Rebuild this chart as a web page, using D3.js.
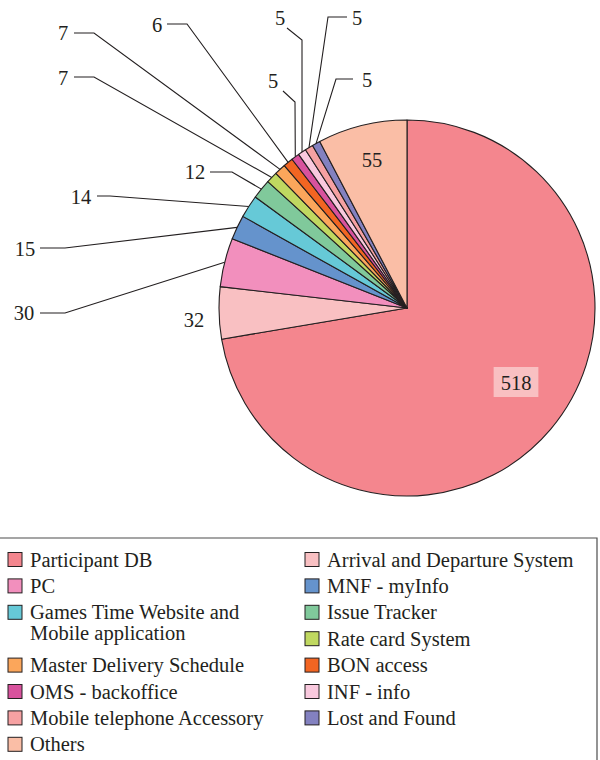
<!DOCTYPE html>
<html>
<head>
<meta charset="utf-8">
<script src="https://cdn.jsdelivr.net/npm/d3@7"></script>
<style>
  html, body { margin: 0; padding: 0; background: #fff; }
  svg { display: block; }
  text { font-family: "Liberation Serif", "Times New Roman", serif; fill: #231f20; }
</style>
</head>
<body>
<svg id="chart" width="600" height="760"></svg>
<script>
// ---- data ----
const categories = [
  "Participant DB", "Arrival and Departure System", "PC", "MNF - myInfo",
  "Games Time Website and Mobile application", "Issue Tracker", "Rate card System",
  "Master Delivery Schedule", "BON access", "OMS - backoffice", "INF - info",
  "Mobile telephone Accessory", "Lost and Found", "Others"
];
const values = [518, 32, 30, 15, 14, 12, 7, 7, 6, 5, 5, 5, 5, 55];
const colors = [
  "#f4868e", "#f9c0c2", "#f28fbd", "#6593cc", "#66c9d7", "#80c99b", "#c0d860",
  "#fba65b", "#f26522", "#d8529d", "#f9c9de", "#f6a1a2", "#8381c0", "#fabea6"
];

// ---- label layout (text centre x, baseline y, leader points before the slice edge) ----
const labelLayout = [
  { x: 516, y: 390, box: true },
  { x: 194, y: 327 },
  { x: 24,  y: 320, path: [[40, 313], [65, 313]] },
  { x: 25,  y: 256, path: [[40, 248], [65, 248]] },
  { x: 81,  y: 204, path: [[97, 196], [110, 196]] },
  { x: 195, y: 179, path: [[210, 172], [232, 172]] },
  { x: 63,  y: 85,  path: [[74, 77], [94, 77]] },
  { x: 63,  y: 40,  path: [[74, 33], [94, 33]] },
  { x: 157, y: 32,  path: [[167, 24], [187, 24]] },
  { x: 273, y: 88,  path: [[283, 91], [295, 102]] },
  { x: 280, y: 25,  path: [[287, 28], [302, 40]] },
  { x: 357, y: 25,  path: [[347, 17], [328, 17]] },
  { x: 367, y: 87,  path: [[353, 79], [336, 79]] },
  { x: 372, y: 167 }
];

const svg = d3.select("#chart");
const cx = 407, cy = 308, r = 188;
const fontSize = 20.5;

const pie = d3.pie().sort(null).value(d => d.value);
const data = categories.map((c, i) => ({ name: c, value: values[i], color: colors[i], idx: i }));
const arcs = pie(data);
const arc = d3.arc().innerRadius(0).outerRadius(r);

const g = svg.append("g").attr("transform", `translate(${cx},${cy})`);
g.selectAll("path.slice")
  .data(arcs)
  .join("path")
  .attr("class", "slice")
  .attr("d", arc)
  .attr("fill", d => d.data.color)
  .attr("stroke", "#231f20")
  .attr("stroke-width", 1.1)
  .attr("stroke-linejoin", "round");

// leader lines
const line = d3.line();
arcs.forEach((a, i) => {
  const L = labelLayout[i];
  if (!L.path) return;
  const mid = (a.startAngle + a.endAngle) / 2;
  const edge = [cx + r * Math.sin(mid), cy - r * Math.cos(mid)];
  svg.append("path")
    .attr("d", line(L.path.concat([edge])))
    .attr("fill", "none")
    .attr("stroke", "#231f20")
    .attr("stroke-width", 1.1);
});

// labels
arcs.forEach((a, i) => {
  const L = labelLayout[i];
  const t = svg.append("text")
    .attr("x", L.x).attr("y", L.y)
    .attr("text-anchor", "middle")
    .attr("font-size", fontSize)
    .text(a.data.value);
  if (L.box) {
    const bb = t.node().getBBox();
    svg.insert("rect", () => t.node())
      .attr("x", bb.x - 7).attr("y", L.y - 23)
      .attr("width", bb.width + 14).attr("height", 30)
      .attr("fill", "#f9c0c2");
  }
});

// ---- legend ----
const legendTop = 538, legendRight = 597;
svg.append("path")
  .attr("d", `M0,${legendTop}H${legendRight}V761`)
  .attr("fill", "none")
  .attr("stroke", "#4d4d4d")
  .attr("stroke-width", 1.2);

const colX = [8, 305];
const rowUnit = 26.4, row0 = 560, lineGap = 21, maxTextW = 255;
const colH = [0, 0];
const lg = svg.append("g");
data.forEach(d => {
  const c = colH[0] <= colH[1] ? 0 : 1;
  const yc = row0 + colH[c] * rowUnit;
  lg.append("rect")
    .attr("x", colX[c]).attr("y", yc - 7.5)
    .attr("width", 14).attr("height", 14)
    .attr("fill", d.color)
    .attr("stroke", "#231f20").attr("stroke-width", 1);
  const t = lg.append("text")
    .attr("x", colX[c] + 22).attr("y", yc + 6.5)
    .attr("font-size", fontSize);
  // wrap words
  const words = d.name.split(" ");
  let lines = [], cur = [];
  const probe = lg.append("text").attr("font-size", fontSize);
  words.forEach(w => {
    const trial = cur.concat([w]).join(" ");
    probe.text(trial);
    if (probe.node().getComputedTextLength() > maxTextW && cur.length) {
      lines.push(cur.join(" "));
      cur = [w];
    } else cur.push(w);
  });
  lines.push(cur.join(" "));
  probe.remove();
  lines.forEach((ln, k) => {
    t.append("tspan").attr("x", colX[c] + 22).attr("dy", k === 0 ? 0 : lineGap).text(ln);
  });
  colH[c] += lines.length;
});
</script>
</body>
</html>
